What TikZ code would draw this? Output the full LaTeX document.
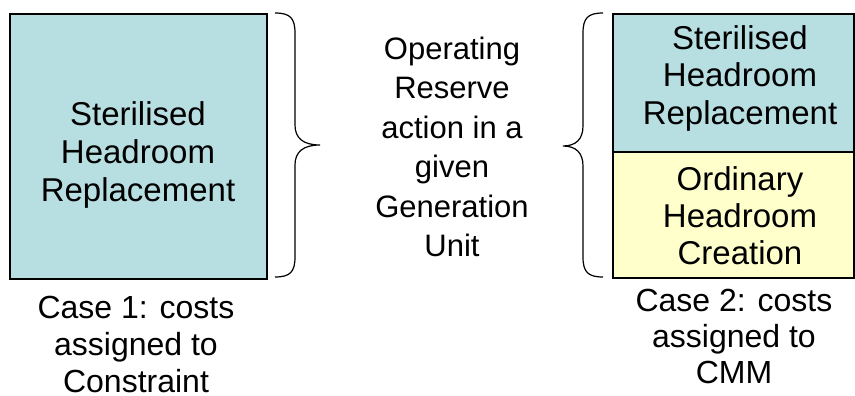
\documentclass[tikz,border=0pt]{standalone}
\usepackage{fontspec}
\setmainfont{Liberation Sans}
\begin{document}
\begin{tikzpicture}[x=1pt,y=-1pt,
  box/.style={draw=black,line width=1.6pt,inner sep=0pt,anchor=north west},
  bluebox/.style={box,fill=boxblue},
  yellowbox/.style={box,fill=boxyellow},
  txt/.style={align=center,font=\fontsize{33}{38}\selectfont,inner sep=0pt},
  brace/.style={draw=black,line width=1.2pt}]
\definecolor{boxblue}{RGB}{183,222,225}
\definecolor{boxyellow}{RGB}{255,255,204}
\useasboundingbox (0,0) rectangle (855,396);
% left box
\node[bluebox,minimum width=257pt,minimum height=265pt] (L) at (9,13) {};
\node[txt] (Lt) at (138,155) {Sterilised\\Headroom\\Replacement};
% right boxes
\node[bluebox,minimum width=241pt,minimum height=138pt] (R1) at (612,13) {};
\node[yellowbox,minimum width=241pt,minimum height=126pt] (R2) at (612,151) {};
\node[txt,font=\fontsize{33}{37.5}\selectfont] (R1t) at (740,78) {Sterilised\\Headroom\\Replacement};
\node[txt,font=\fontsize{33}{37}\selectfont] (R2t) at (740,216) {Ordinary\\Headroom\\Creation};
% middle text
\node[txt,font=\fontsize{31}{39.4}\selectfont] (M) at (452,147) {Operating\\Reserve\\action in a\\given\\Generation\\Unit};
% bottom captions
\node[txt,font=\fontsize{32}{37}\selectfont] (C1) at (136,344) {Case 1: costs\\assigned to\\Constraint};
\node[txt,font=\fontsize{32}{36}\selectfont] (C2) at (734,336) {Case 2: costs\\assigned to\\CMM};
% left brace
\coordinate (LB1) at (275,13);
\coordinate (LBm) at (320,145);
\coordinate (LB2) at (275,277);
\draw[brace] (LB1) .. controls (290,13) and (295,18) .. (295,33) -- (295,125)
  .. controls (295,138) and (303,145) .. (LBm)
  .. controls (303,145) and (295,152) .. (295,165) -- (295,257)
  .. controls (295,272) and (290,277) .. (LB2);
% right brace
\coordinate (RB1) at (603,13);
\coordinate (RBm) at (563,146);
\coordinate (RB2) at (603,277);
\draw[brace] (RB1) .. controls (588,13) and (583,18) .. (583,33) -- (583,126)
  .. controls (583,139) and (576,146) .. (RBm)
  .. controls (576,146) and (583,153) .. (583,166) -- (583,257)
  .. controls (583,272) and (588,277) .. (RB2);
\end{tikzpicture}
\end{document}
